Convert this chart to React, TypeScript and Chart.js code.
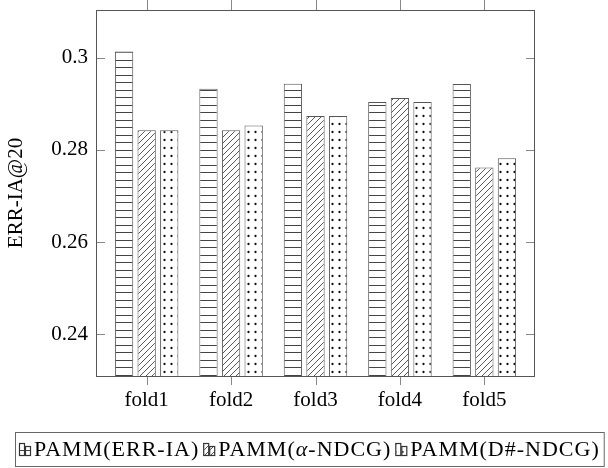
import { useEffect, useRef } from 'react';
import { Chart, registerables } from 'chart.js';

Chart.register(...registerables);

const categories = ['fold1', 'fold2', 'fold3', 'fold4', 'fold5'];
const seriesLabels = ['PAMM(ERR-IA)', 'PAMM(α-NDCG)', 'PAMM(D#-NDCG)'];
const errIA = [0.3014, 0.2933, 0.2944, 0.2904, 0.2943];
const alphaNDCG = [0.2843, 0.2843, 0.2874, 0.2913, 0.2762];
const dSharpNDCG = [0.2843, 0.2853, 0.2874, 0.2904, 0.2782];
const yTicks = [0.24, 0.26, 0.28, 0.3];
const yTickLabels = ['0.24', '0.26', '0.28', '0.3'];
const yTitle = 'ERR-IA@20';

const FONT = "'Liberation Serif', 'Times New Roman', serif";
const FS = 21;
const LFS = 22;
const FRAME = '#555';
const TICKC = '#888';
const TEXT = '#000';

function makePattern(kind: string): CanvasPattern | string {
  const c = document.createElement('canvas');
  let w = 8, h = 8;
  if (kind === 'h') { w = 8; h = 15; }
  if (kind === 'd') { w = 6; h = 6; }
  if (kind === 'o') { w = 7; h = 8; }
  c.width = w; c.height = h;
  const g = c.getContext('2d')!;
  g.fillStyle = '#fff';
  g.fillRect(0, 0, w, h);
  if (kind === 'h') {
    g.fillStyle = '#444';
    g.fillRect(0, 0, w, 1);
    g.fillRect(0, 7, w, 1);
  } else if (kind === 'd') {
    g.strokeStyle = '#444';
    g.lineWidth = 0.9;
    g.beginPath();
    g.moveTo(-1, h + 1); g.lineTo(w + 1, -1);
    g.moveTo(-1, 1); g.lineTo(1, -1);
    g.moveTo(w - 1, h + 1); g.lineTo(w + 1, h - 1);
    g.stroke();
  } else {
    g.fillStyle = '#111';
    g.beginPath();
    g.arc(3.5, 4, 1.15, 0, Math.PI * 2);
    g.fill();
  }
  const ctx = document.createElement('canvas').getContext('2d')!;
  return ctx.createPattern(c, 'repeat') || '#fff';
}

function drawRich(ctx: CanvasRenderingContext2D, text: string, x: number, y: number, draw: boolean): number {
  const parts = text.split(/(α)/);
  let cx = x;
  (ctx as any).letterSpacing = '1px';
  for (const p of parts) {
    if (!p) continue;
    ctx.font = p === 'α' ? `italic ${LFS}px ${FONT}` : `${LFS}px ${FONT}`;
    if (draw) ctx.fillText(p, cx, y);
    cx += ctx.measureText(p).width;
  }
  (ctx as any).letterSpacing = '0px';
  return cx - x;
}

const framePlugin = {
  id: 'pgfFrame',
  afterDatasetsDraw(chart: any) {
    const { ctx, chartArea: a, scales } = chart;
    ctx.save();
    ctx.lineWidth = 1;
    ctx.strokeStyle = TICKC;
    ctx.beginPath();
    for (const v of yTicks) {
      const y = Math.round(scales.y.getPixelForValue(v)) + 0.5;
      ctx.moveTo(a.left, y); ctx.lineTo(a.left + 9, y);
      ctx.moveTo(a.right, y); ctx.lineTo(a.right - 9, y);
    }
    categories.forEach((_, i) => {
      const x = Math.round(scales.x.getPixelForValue(i + 1)) + 0.5;
      ctx.moveTo(x, a.bottom); ctx.lineTo(x, a.bottom + 9);
      ctx.moveTo(x, a.top); ctx.lineTo(x, a.top - 10);
    });
    ctx.stroke();
    ctx.strokeStyle = FRAME;
    ctx.strokeRect(a.left + 0.5, a.top + 0.5, a.right - a.left - 1, a.bottom - a.top);
    ctx.restore();
  },
  afterDraw(chart: any) {
    const ctx: CanvasRenderingContext2D = chart.ctx;
    const ds = chart.data.datasets;
    ctx.save();
    ctx.textBaseline = 'middle';
    ctx.fillStyle = TEXT;
    const iconW = 12, iconGap = 3, itemGap = 4, pad = 4;
    const widths = ds.map((d: any) => iconW + iconGap + drawRich(ctx, d.label, 0, 0, false));
    const total = widths.reduce((s: number, w: number) => s + w, 0) + itemGap * (ds.length - 1) + pad * 2;
    const boxTop = chart.height - 36;
    const boxH = 34;
    const left = Math.round(309.5 - total / 2);
    ctx.strokeStyle = '#666';
    ctx.lineWidth = 1;
    ctx.strokeRect(left + 0.5, boxTop + 0.5, total, boxH);
    let x = left + pad;
    const cy = boxTop + boxH / 2 + 1;
    ds.forEach((d: any, i: number) => {
      ctx.fillStyle = d.backgroundColor;
      ctx.strokeStyle = '#333';
      ctx.lineWidth = 1.2;
      const bottom = cy + 6;
      ctx.fillRect(x + 1, bottom - 12, 4, 12);
      ctx.strokeRect(x + 0.5, bottom - 12.5, 5, 12);
      ctx.fillRect(x + 7, bottom - 9, 4, 9);
      ctx.strokeRect(x + 6.5, bottom - 9.5, 5, 9);
      ctx.fillStyle = TEXT;
      drawRich(ctx, d.label, x + iconW + iconGap, cy, true);
      x += widths[i] + itemGap;
    });
    ctx.restore();
  },
};

export default function App() {
  const ref = useRef<HTMLCanvasElement>(null);
  useEffect(() => {
    const patterns = [makePattern('h'), makePattern('d'), makePattern('o')];
    const series = [errIA, alphaNDCG, dSharpNDCG];
    const chart = new Chart(ref.current!, {
      type: 'bar',
      data: {
        datasets: series.map((s, k) => ({
          label: seriesLabels[k],
          data: s.map((v, i) => ({ x: i + 1, y: v })),
          backgroundColor: patterns[k] as any,
          borderColor: '#555',
          borderWidth: 1,
          categoryPercentage: 0.803,
          barPercentage: 0.81,
        })),
      },
      options: {
        animation: false,
        responsive: false,
        layout: { padding: { top: 10, right: 73, left: 0, bottom: 0 } },
        plugins: { legend: { display: false }, tooltip: { enabled: false } },
        scales: {
          x: {
            type: 'linear',
            offset: false,
            min: 0.4,
            max: 5.6,
            grid: { display: false, drawTicks: false },
            border: { display: false },
            afterBuildTicks: (axis: any) => { axis.ticks = categories.map((_, i) => ({ value: i + 1 })); },
            afterFit: (scale: any) => {
              scale.height = 92;
              scale.paddingLeft = 0; scale.paddingRight = 0;
            },
            ticks: {
              autoSkip: false,
              maxRotation: 0,
              padding: 12,
              color: TEXT,
              font: { family: FONT, size: FS },
              callback: (v: any) => categories[Math.round(Number(v)) - 1] ?? '',
            },
          },
          y: {
            type: 'linear',
            min: 0.2309,
            max: 0.3104,
            beginAtZero: false,
            grid: { display: false, drawTicks: false },
            border: { display: false },
            afterBuildTicks: (axis: any) => { axis.ticks = yTicks.map((v) => ({ value: v })); },
            afterFit: (scale: any) => {
              scale.width = 96;
              scale.paddingTop = 0; scale.paddingBottom = 0;
            },
            title: {
              display: true,
              text: yTitle,
              color: TEXT,
              font: { family: FONT, size: FS },
              padding: { top: 4, bottom: 0 },
            },
            ticks: {
              padding: 8,
              color: TEXT,
              font: { family: FONT, size: FS },
              callback: (_v: any, i: number) => yTickLabels[i],
            },
          },
        },
      },
      plugins: [framePlugin],
    });
    return () => chart.destroy();
  }, []);
  return (
    <div style={{ position: 'absolute', left: 0, top: 0, width: 608, height: 468, background: '#fff' }}>
      <canvas ref={ref} width={608} height={468} style={{ display: 'block' }} />
    </div>
  );
}
